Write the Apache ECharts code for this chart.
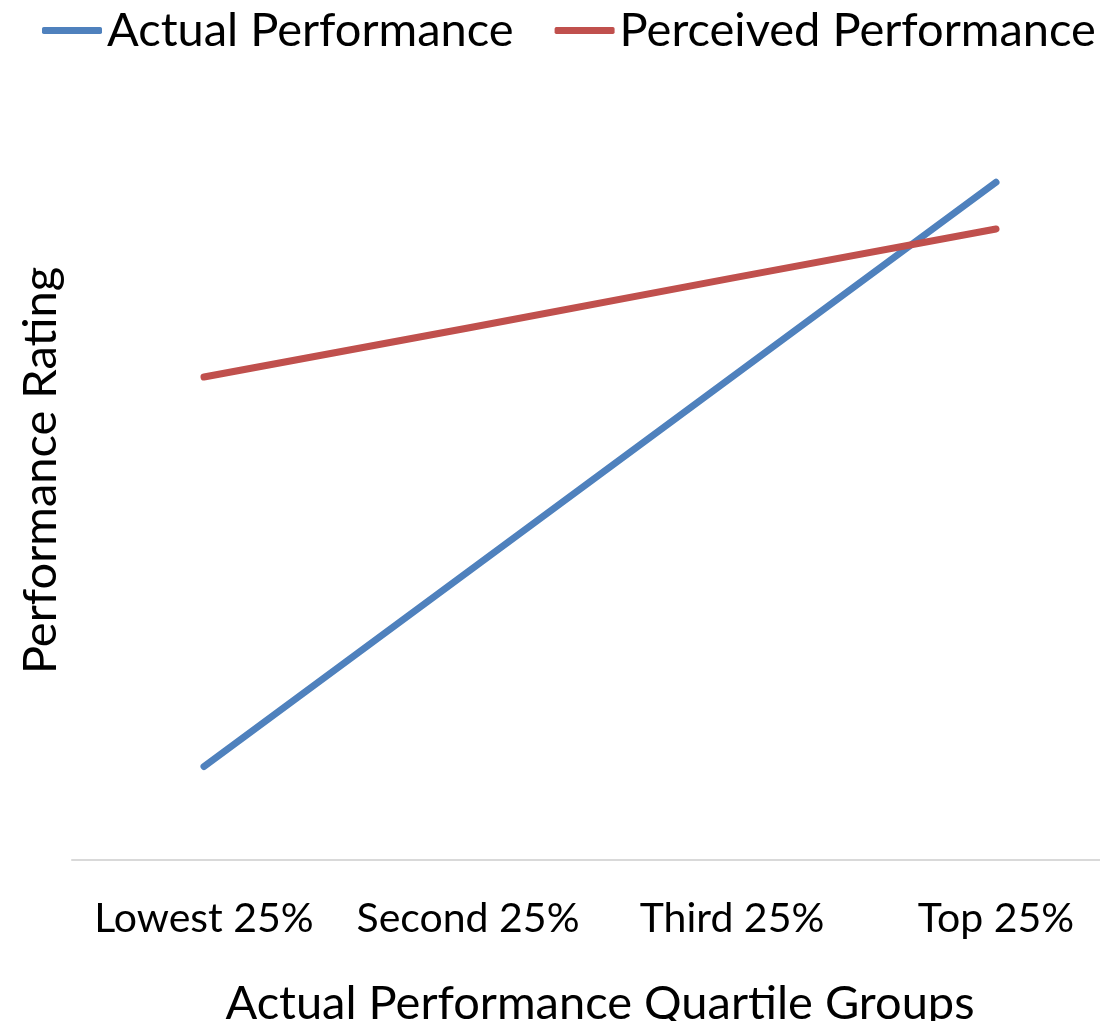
<!DOCTYPE html>
<html>
<head>
<meta charset="utf-8">
<title>Actual vs Perceived Performance</title>
<script src="https://cdn.jsdelivr.net/npm/echarts@6/dist/echarts.min.js"></script>
<style>
  html, body { margin: 0; padding: 0; background: #ffffff; }
  #chart { width: 1100px; height: 1021px; }
</style>
</head>
<body>
<div id="chart"></div>
<script>
// Quartile groups along the x axis
const categories = ['Lowest 25%', 'Second 25%', 'Third 25%', 'Top 25%'];
// Performance ratings (0-100 scale, axis values hidden)
const actualPerformance = [12, 37, 62, 87];
const perceivedPerformance = [62, 68.3, 74.7, 81];

const FONT = 'Lato, "Open Sans", sans-serif';

const chart = echarts.init(document.getElementById('chart'), null, { renderer: 'canvas' });

chart.setOption({
  animation: false,
  backgroundColor: '#ffffff',
  textStyle: { fontFamily: FONT, color: '#000000' },
  legend: {
    left: 42,
    top: 7,
    width: 1400,
    padding: 0,
    icon: 'roundRect',
    itemWidth: 60,
    itemHeight: 7,
    itemGap: 41,
    textStyle: { fontFamily: FONT, fontSize: 47, color: '#000000' },
    data: ['Actual Performance', 'Perceived Performance']
  },
  grid: {
    left: 72,
    top: 81,
    width: 1056,
    height: 779,
    containLabel: false,
    outerBoundsMode: 'none'
  },
  xAxis: {
    type: 'category',
    data: categories,
    boundaryGap: true,
    name: 'Actual Performance Quartile Groups',
    nameLocation: 'middle',
    nameGap: 120,
    nameTextStyle: { fontFamily: FONT, fontSize: 47, color: '#000000' },
    axisLine: { show: true, lineStyle: { color: '#D9D9D9', width: 2 } },
    axisTick: { show: false },
    axisLabel: { interval: 0, fontFamily: FONT, fontSize: 41, color: '#000000', margin: 38, hideOverlap: false },
    splitLine: { show: false }
  },
  yAxis: {
    type: 'value',
    min: 0,
    max: 100,
    name: 'Performance Rating',
    nameLocation: 'middle',
    nameGap: 8,
    nameTextStyle: { fontFamily: FONT, fontSize: 47, color: '#000000' },
    axisLine: { show: false },
    axisTick: { show: false },
    axisLabel: { show: false },
    splitLine: { show: false }
  },
  series: [
    {
      name: 'Actual Performance',
      type: 'line',
      data: actualPerformance,
      symbol: 'none',
      color: '#4F81BD',
      lineStyle: { color: '#4F81BD', width: 7, cap: 'round', join: 'round' }
    },
    {
      name: 'Perceived Performance',
      type: 'line',
      data: perceivedPerformance,
      symbol: 'none',
      color: '#C0504D',
      lineStyle: { color: '#C0504D', width: 7, cap: 'round', join: 'round' }
    }
  ]
});
</script>
</body>
</html>
